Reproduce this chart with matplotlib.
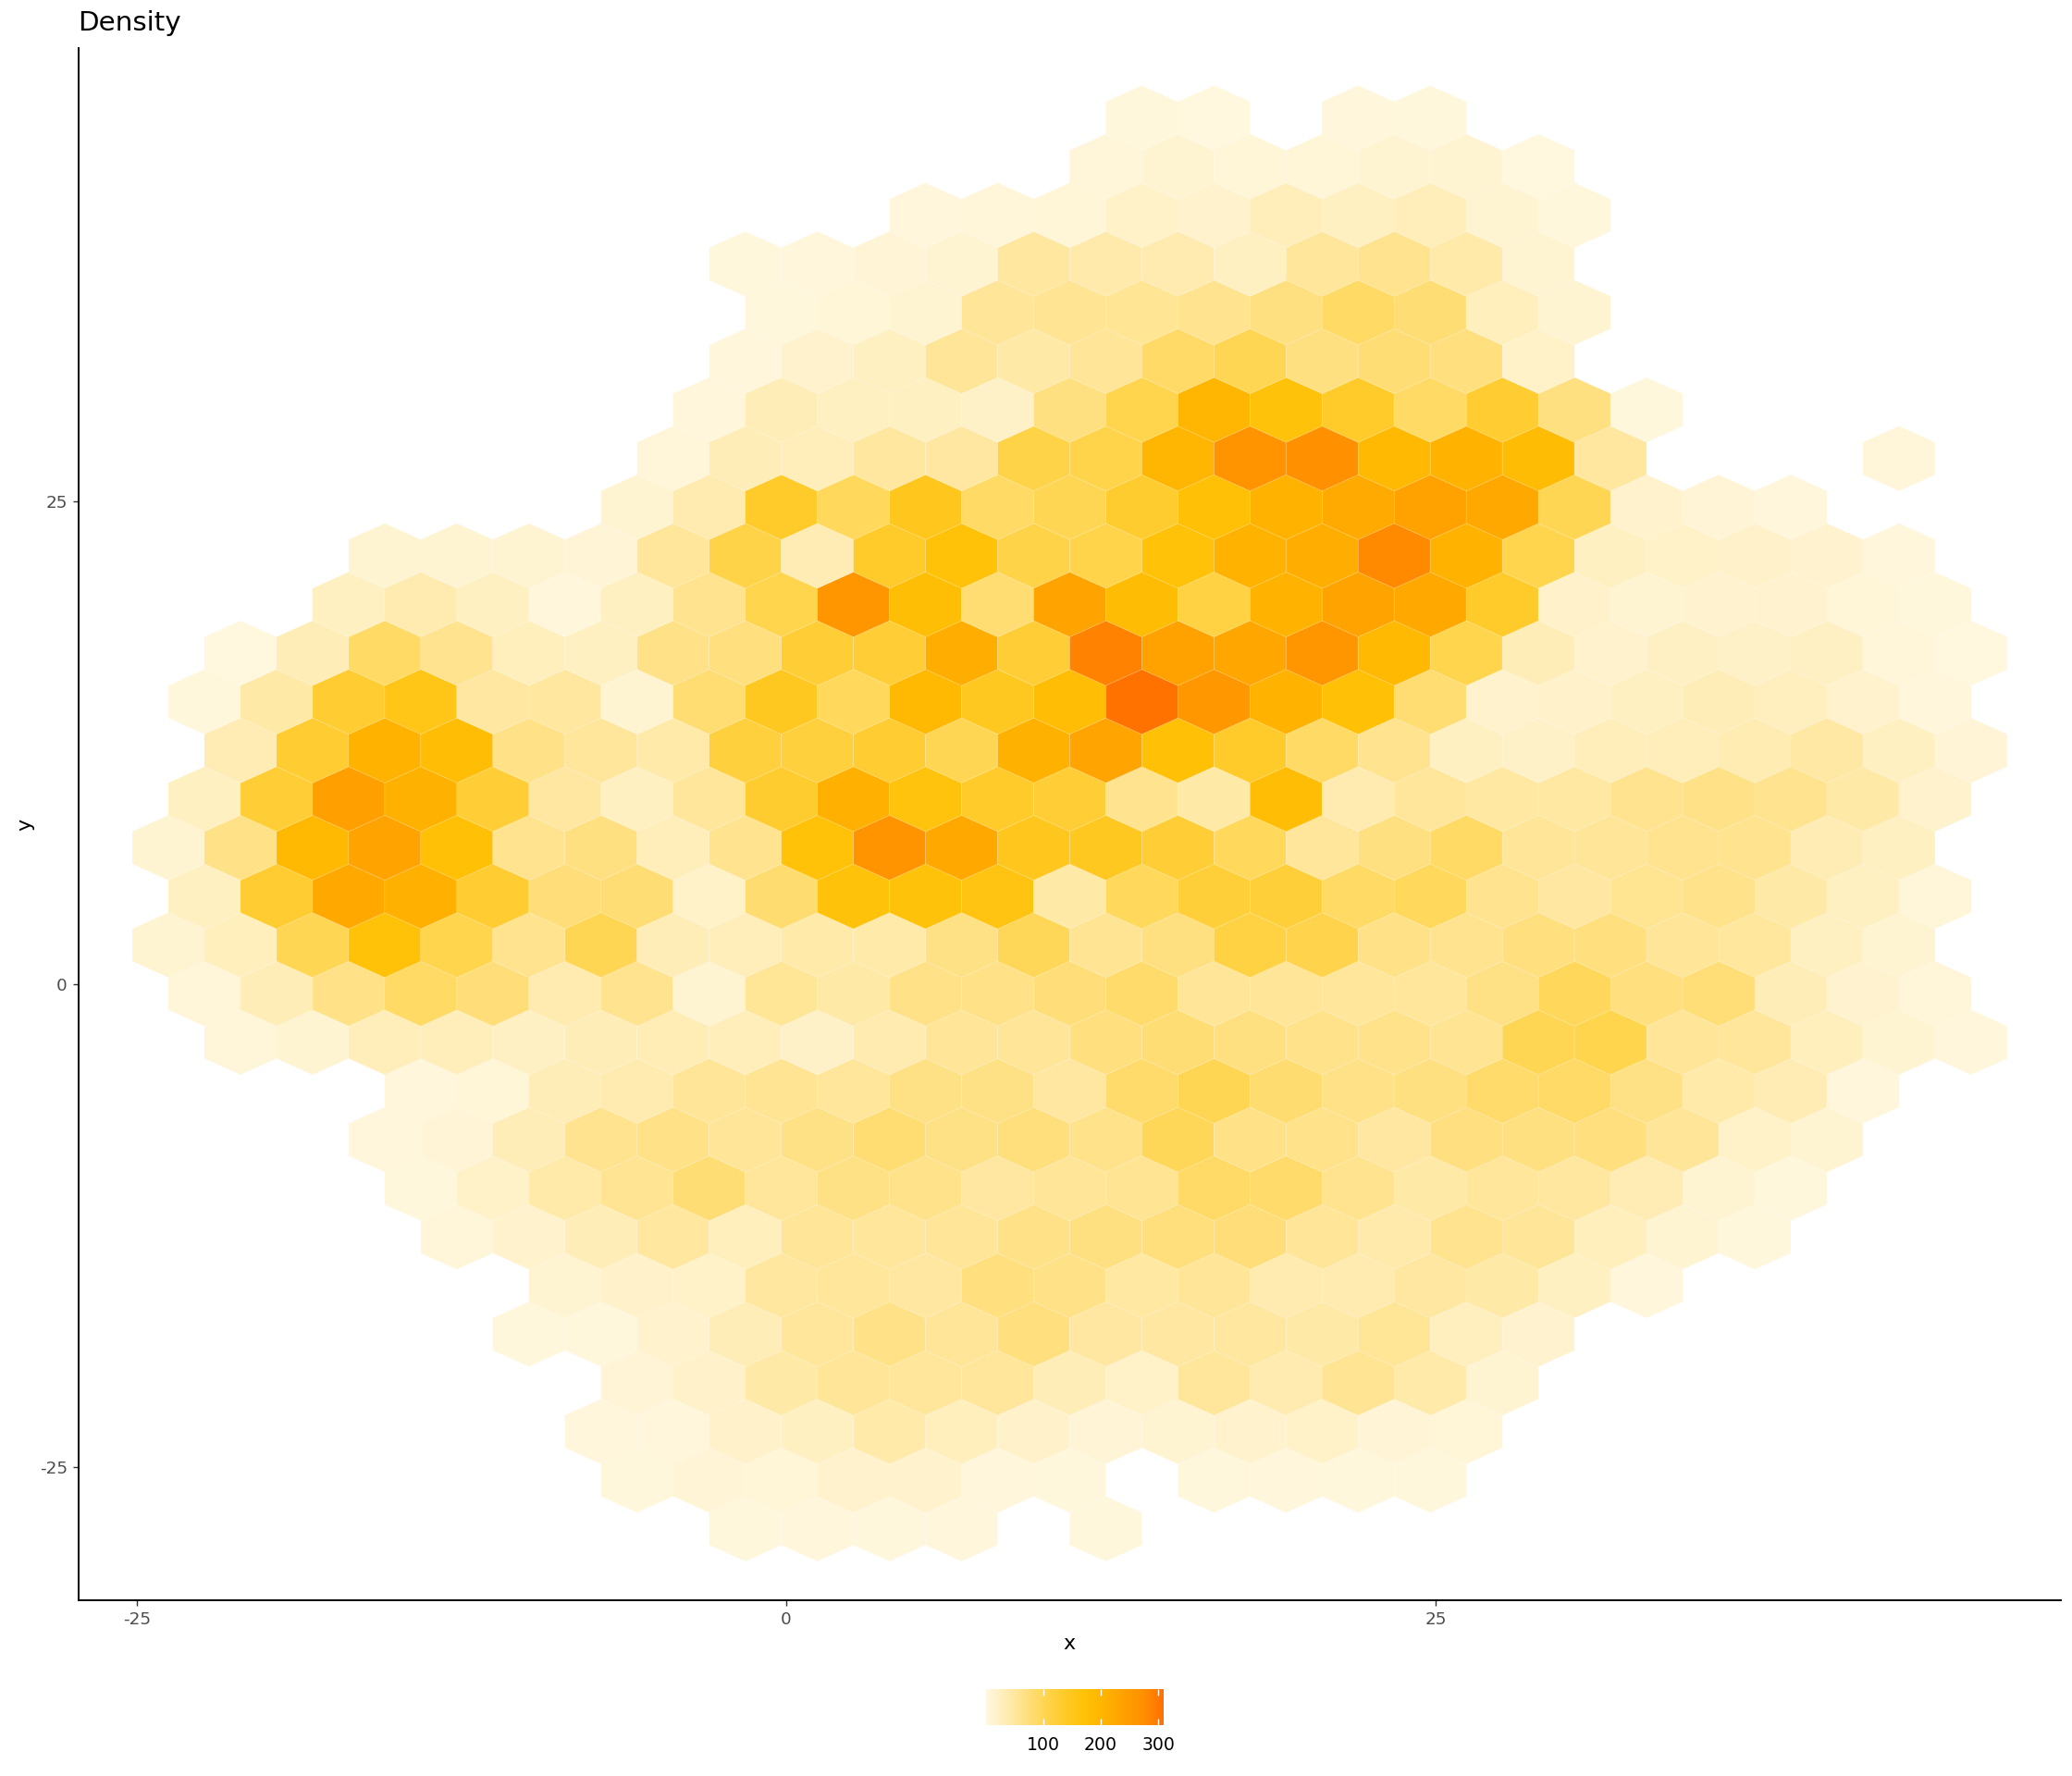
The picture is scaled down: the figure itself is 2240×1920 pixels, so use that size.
import numpy as np
import matplotlib
matplotlib.use("Agg")
import matplotlib.pyplot as plt
from matplotlib.collections import PolyCollection
from matplotlib.colors import LinearSegmentedColormap, Normalize
from matplotlib.cm import ScalarMappable

# counts per hexagon row, bottom row first; 0 marks an empty cell
row00 = [5,6,5,7,0,5]
row01 = [5,10,9,17,17,6,5,0,5,6,5,5]
row02 = [6,7,19,24,42,28,19,10,14,17,20,10,9]
row03 = [10,19,45,55,52,52,32,20,52,38,58,42,12]
row04 = [5,5,17,33,52,65,55,72,48,48,50,44,56,27,15]
row05 = [12,19,20,50,52,48,72,65,47,54,38,38,49,44,25,7]
row06 = [8,17,32,50,28,55,52,55,65,70,74,75,55,41,60,55,28,12,5]
row07 = [5,20,42,58,78,52,68,64,48,55,58,88,85,60,44,52,50,35,12,5]
row08 = [7,10,33,60,65,55,68,80,68,74,64,98,65,64,48,71,70,72,55,20,14]
row09 = [7,9,32,38,55,58,52,68,68,48,85,100,82,65,70,85,88,68,42,35,7]
row10 = [8,12,31,31,23,33,34,31,21,38,55,55,72,78,70,64,64,58,100,105,55,52,28,14,7]
row11 = [8,32,65,90,75,38,60,14,56,45,65,65,75,85,55,55,52,52,68,97,73,76,32,15,8]
row12 = [14,28,100,170,105,60,100,32,30,43,42,68,98,58,70,115,106,65,62,72,72,55,51,26,12]
row13 = [26,130,225,212,130,75,78,20,82,168,168,162,45,95,122,122,90,95,60,48,59,64,44,26,8]
row14 = [12,65,190,235,175,60,70,30,62,170,265,225,150,145,125,95,53,70,90,55,55,61,61,35,24]
row15 = [26,125,240,210,125,48,24,52,132,212,165,135,125,60,45,180,38,52,47,47,61,65,61,45,17]
row16 = [35,130,205,180,65,52,42,120,120,130,100,210,232,175,135,90,60,26,21,30,30,37,46,24,10]
row17 = [5,45,130,155,48,50,14,80,145,95,190,145,180,305,255,208,175,80,17,18,26,32,27,17,7]
row18 = [4,32,90,60,28,24,66,73,125,125,215,125,288,238,230,260,190,105,32,17,23,21,23,8,4]
row19 = [26,38,24,7,26,62,105,260,178,80,235,185,115,205,235,225,135,19,12,15,15,9,5]
row20 = [14,14,12,10,52,110,35,135,170,110,108,170,205,215,280,205,105,26,20,18,15,7]
row21 = [12,38,135,95,150,90,100,132,175,205,222,238,225,100,17,10,7]
row22 = [8,32,30,50,48,110,108,198,266,272,190,205,185,50,0,0,0,8]
row23 = [6,32,24,24,21,70,105,198,168,135,90,130,70,5]
row24 = [7,17,24,55,44,54,88,100,70,78,72,20]
row25 = [5,9,14,55,58,57,60,70,90,78,28,14]
row26 = [5,7,10,12,50,41,38,24,52,62,42,12]
row27 = [7,8,9,20,17,30,26,30,14,5]
row28 = [8,12,9,9,14,12,4]
row29 = [5,4,0,6,5]
rows = [row00,row01,row02,row03,row04,row05,row06,row07,row08,row09,
        row10,row11,row12,row13,row14,row15,row16,row17,row18,row19,
        row20,row21,row22,row23,row24,row25,row26,row27,row28,row29]
# first half-column index of each row
row_first_col = [0,-3,-4,-3,-6,-5,-8,-9,-10,-9,-14,-15,-16,-15,-16,-15,-14,-15,-14,-11,
                 -10,-3,-2,-1,0,1,0,5,10,11]

x_ticks = [-25, 0, 25]
y_ticks = [-25, 0, 25]
legend_ticks = [100, 200, 300]
amber = ["#FFF8E1","#FFECB3","#FFE082","#FFD54F","#FFCA28",
         "#FFC107","#FFB300","#FFA000","#FF8F00","#FF6F00"]

# hexagon grid
x_origin, half_dx = -1.58, 1.388
y_origin, dy = -28.2, 2.52

W, H = 2240, 1920
plt.rcParams["font.family"] = "DejaVu Sans"
plt.rcParams["axes.unicode_minus"] = False
fig = plt.figure(figsize=(W/200, H/200), dpi=200, facecolor="white")
L, R, T, B = 84.5, 2228, 52, 1730
ax = fig.add_axes([L/W, 1-B/H, (R-L)/W, (B-T)/H])

cmap = LinearSegmentedColormap.from_list("amber", amber)
norm = Normalize(vmin=1, vmax=309)

unit = np.array([(0, 2/3), (1, 1/3), (1, -1/3), (0, -2/3), (-1, -1/3), (-1, 1/3)])
verts, vals = [], []
for k, (first, values) in enumerate(zip(row_first_col, rows)):
    for n, v in enumerate(values):
        if v == 0:
            continue
        cx = x_origin + half_dx*(first + 2*n)
        cy = y_origin + dy*k
        verts.append(np.column_stack([cx + unit[:, 0]*half_dx, cy + unit[:, 1]*dy]))
        vals.append(v)

pc = PolyCollection(verts, array=np.array(vals, float), cmap=cmap, norm=norm,
                    edgecolors=(1, 1, 1, 0.14), linewidths=0.3)
ax.add_collection(pc)

ax.set_xlim(-27.26, 49.07)
ax.set_ylim(-31.9, 48.5)
ax.set_xticks(x_ticks)
ax.set_yticks(y_ticks)
ax.tick_params(length=2.0, width=0.5, color="#333333", labelcolor="#4d4d4d",
               labelsize=6.6, pad=2.2)
for s in ("top", "right"):
    ax.spines[s].set_visible(False)
for s in ("left", "bottom"):
    ax.spines[s].set_linewidth(0.7)
    ax.spines[s].set_color("black")
ax.set_xlabel("x", fontsize=8, labelpad=2.6)
ax.set_ylabel("y", fontsize=8, labelpad=2.0)
ax.set_title("Density", loc="left", fontsize=10.6, pad=6.8)

cax = fig.add_axes([1066/W, 1-1865/H, 192/W, 39/H])
cb = fig.colorbar(ScalarMappable(norm=norm, cmap=cmap), cax=cax, orientation="horizontal")
cb.outline.set_visible(False)
cb.set_ticks(legend_ticks)
cax.tick_params(axis="x", top=True, bottom=True, direction="in", length=2.5, width=0.5,
                color="white", labelcolor="black", labelsize=6.8, pad=4.2)

fig.savefig("out.png", dpi=200, facecolor="white")
